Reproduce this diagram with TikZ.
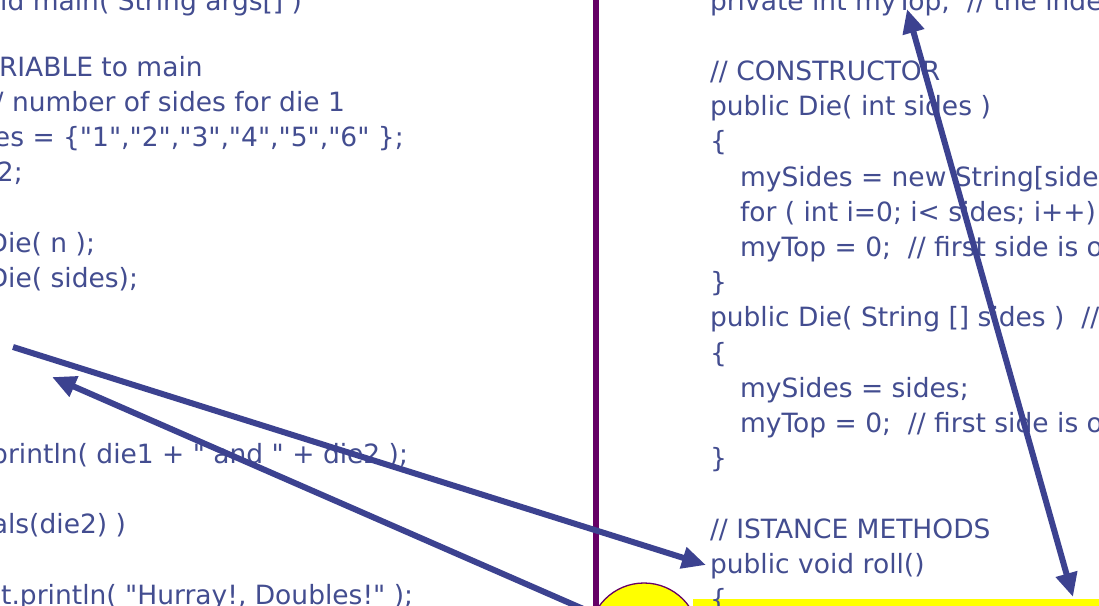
\documentclass[tikz,border=0pt]{standalone}
\usepackage{fontspec}
\setmainfont{DejaVu Sans}[Ligatures=TeXOff]
\usetikzlibrary{arrows.meta}
\definecolor{codeblue}{HTML}{434D90}
\definecolor{arrowblue}{HTML}{3C4290}
\definecolor{divider}{HTML}{660066}
\definecolor{hilite}{HTML}{FFFF00}

\begin{document}
\begin{tikzpicture}[x=1pt,y=-1pt,
  code/.style={inner sep=0pt, outer sep=0pt, text=codeblue,
               font=\fontsize{26.5}{30}\selectfont},
  lcode/.style={code, anchor=base east},
  rcode/.style={code, anchor=base west},
  pointer/.style={draw=arrowblue, line width=6pt, -{Triangle[length=24pt,width=21pt]}},
  twoway/.style={draw=arrowblue, line width=6pt,
                 {Triangle[length=24pt,width=21pt]}-{Triangle[length=24pt,width=21pt]}}]

\useasboundingbox (0,0) rectangle (1099,605);
\clip (0,0) rectangle (1099,605);
\fill[white] (0,0) rectangle (1099,605);

% highlight bar and marker circle at the foot of the slide
\fill[hilite] (693,599) rectangle (1110,620);
\draw[divider, line width=1.3pt, fill=hilite] (644,638) circle[radius=55];

% divider between the two listings
\draw[divider, line width=5.5pt] (596,-5) -- (596,615);

% left listing: the main program
\node[lcode] (l0)  at (302,10)    {void main( String args[] )};
\node[rcode] (l2)  at (-1,76)     {RIABLE to main};
\node[lcode] (l3)  at (345,111.2) {// number of sides for die 1};
\node[rcode] (l4)  at (-6,146.4)  {es = \{"1","2","3","4","5","6" \};};
\node[rcode] (l5)  at (-3,181.6)  {2;};
\node[lcode] (l7)  at (95,252)    {Die( n );};
\node[lcode] (l8)  at (138,287.2) {Die( sides);};
\node[lcode] (l13) at (408,463.2) {println( die1 + " and " + die2 );};
\node[lcode] (l15) at (126,533.6) {equals(die2) )};
\node[lcode] (l17) at (413,604)   {out.println( "Hurray!, Doubles!" );};

% right listing: the Die class
\node[rcode] (r0)  at (710,10)    {private int myTop;~~// the index of the top side};
\node[rcode] (r2)  at (710,80.4)  {// CONSTRUCTOR};
\node[rcode] (r3)  at (710,115.6) {public Die( int sides )};
\node[rcode] (r4)  at (710,150.8) {\{};
\node[rcode] (r5)  at (740,186)   {mySides = new String[sides];};
\node[rcode] (r6)  at (740,221.2) {for ( int i=0; i< sides; i++)};
\node[rcode] (r7)  at (740,256.4) {myTop = 0;~~// first side is on top};
\node[rcode] (r8)  at (710,291.6) {\}};
\node[rcode] (r9)  at (710,326.8) {public Die( String [] sides )~~// copy};
\node[rcode] (r10) at (710,362)   {\{};
\node[rcode] (r11) at (740,397.2) {mySides = sides;};
\node[rcode] (r12) at (740,432.4) {myTop = 0;~~// first side is on top};
\node[rcode] (r13) at (710,467.6) {\}};
\node[rcode] (r15) at (710,538)   {// ISTANCE METHODS};
\node[rcode] (r16) at (710,573.2) {public void roll()};
\node[rcode] (r17) at (710,608.4) {\{};

% arrow end points
\coordinate (callRoll)  at (13,347);
\coordinate (rollTip)   at (706,565);
\coordinate (markFoot)  at (620,625);
\coordinate (callTip)   at (52,377);
\coordinate (topField)  at (907,9);
\coordinate (topLine)   at (1073,597);

\draw[pointer] (callRoll) -- (rollTip);
\draw[pointer] (markFoot) -- (callTip);
\draw[twoway] (topField) -- (topLine);
\end{tikzpicture}
\end{document}
